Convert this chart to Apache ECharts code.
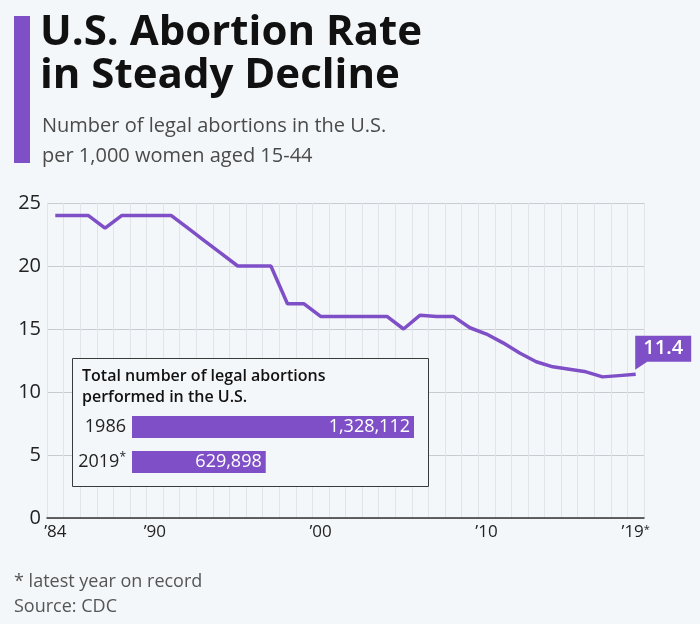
<!DOCTYPE html>
<html>
<head>
<meta charset="utf-8">
<style>
html,body{margin:0;padding:0;background:#f4f7fa;}
#chart{width:700px;height:624px;}
</style>
<script src="https://cdn.jsdelivr.net/npm/echarts@6/dist/echarts.min.js"></script>
</head>
<body>
<div id="chart"></div>
<script>
// ---- data ----
const years = ['1984','1985','1986','1987','1988','1989','1990','1991','1992','1993',
  '1994','1995','1996','1997','1998','1999','2000','2001','2002','2003',
  '2004','2005','2006','2007','2008','2009','2010','2011','2012','2013',
  '2014','2015','2016','2017','2018','2019'];
const rates = [24,24,24,23,24,24,24,24,23,22,
  21,20,20,20,17,17,16,16,16,16,
  16,15,16.1,16.0,16.0,15.1,14.6,13.9,13.1,12.4,
  12.0,11.8,11.6,11.2,11.3,11.4];
const labelYears = ['1984','1990','2000','2010','2019'];
const labelTexts = ['\u201984','\u201990','\u201900','\u201910','\u201919{s|*}'];
const yTicks = [0,5,10,15,20,25];
const insetYears = ['1986','2019'];
const insetTotals = [1328112, 629898];

const PURPLE = '#7e4fc6';
const BG = '#f4f7fa';
const FONT = '"Open Sans", sans-serif';

const chart = echarts.init(document.getElementById('chart'), null, {renderer:'canvas'});
const option = {
  backgroundColor: BG,
  animation: false,
  textStyle: {fontFamily: FONT},
  grid: [
    {left: 47, right: 56, top: 203, bottom: 106, containLabel: false},
    {left: 132, width: 282, top: 409.5, height: 70, containLabel: false}
  ],
  xAxis: [
    {
      type: 'category', data: years, boundaryGap: true, gridIndex: 0,
      axisLine: {show: true, lineStyle: {color: '#333', width: 1.5}},
      axisTick: {show: false, interval: 0},
      splitLine: {show: true, interval: 0, lineStyle: {color: '#e1e5ea', width: 1}},
      axisLabel: {
        interval: function (idx, val) { return labelYears.indexOf(val) >= 0; },
        formatter: function (val) { return labelTexts[labelYears.indexOf(val)]; },
        color: '#222', fontSize: 17, fontFamily: FONT, margin: 6,
        rich: {s: {fontSize: 11, verticalAlign: 'top', color: '#222', padding: [0,0,6,0]}}
      }
    },
    {type: 'value', gridIndex: 1, min: 0, max: insetTotals[0], show: false}
  ],
  yAxis: [
    {
      type: 'value', gridIndex: 0, min: yTicks[0], max: yTicks[yTicks.length-1], interval: 5,
      axisLine: {show: false}, axisTick: {show: false},
      splitLine: {show: true, lineStyle: {color: '#c8ccd1', width: 1}},
      axisLabel: {color: '#222', fontSize: 20, fontFamily: FONT, margin: 6}
    },
    {
      type: 'category', gridIndex: 1, data: insetYears, inverse: true, z: 20,
      axisLine: {show: false}, axisTick: {show: false}, splitLine: {show: false},
      axisLabel: {
        color: '#222', fontSize: 18, fontFamily: FONT, margin: 6,
        formatter: function (v) { return v === '2019' ? v + '{s|*}' : v; },
        rich: {s: {fontSize: 12, verticalAlign: 'top', color: '#222', padding: [0,0,8,0]}}
      }
    }
  ],
  series: [
    {
      type: 'line', xAxisIndex: 0, yAxisIndex: 0, data: rates,
      showSymbol: false, symbol: 'none',
      lineStyle: {color: PURPLE, width: 3.5},
      itemStyle: {color: PURPLE},
      z: 5,
      markPoint: {
        symbol: 'path://M0,0L56,0L56,26L12,26L0,34Z',
        symbolSize: [56, 34],
        symbolKeepAspect: false,
        symbolOffset: [27.5, -21.7],
        itemStyle: {color: PURPLE},
        label: {show: true, color: '#fff', fontSize: 20, fontWeight: 600, fontFamily: FONT, offset: [0, -4],
                formatter: function (p) { return String(p.value); }},
        data: [{coord: [years[years.length-1], rates[rates.length-1]], value: rates[rates.length-1]}]
      }
    },
    {
      type: 'bar', xAxisIndex: 1, yAxisIndex: 1, data: insetTotals,
      barWidth: 22, z: 20,
      itemStyle: {color: PURPLE},
      label: {
        show: true, position: 'insideRight', distance: 4, color: '#fff',
        fontSize: 18, fontFamily: FONT,
        formatter: function (p) { return p.value.toLocaleString('en-US'); }
      }
    }
  ],
  graphic: [
    {type: 'rect', z: 1, shape: {x: 14, y: 16, width: 16, height: 147}, style: {fill: PURPLE}},
    {type: 'text', z: 1, x: 40, y: 33, style: {text: 'U.S. Abortion Rate', font: 'bold 42px ' + FONT, fill: '#111', verticalAlign: 'middle'}},
    {type: 'text', z: 1, x: 40, y: 76, style: {text: 'in Steady Decline', font: 'bold 42px ' + FONT, fill: '#111', verticalAlign: 'middle'}},
    {type: 'text', z: 1, x: 42, y: 126.5, style: {text: 'Number of legal abortions in the U.S.', font: '20px ' + FONT, fill: '#4a4a4a', verticalAlign: 'middle'}},
    {type: 'text', z: 1, x: 42, y: 156.5, style: {text: 'per 1,000 women aged 15-44', font: '20px ' + FONT, fill: '#4a4a4a', verticalAlign: 'middle'}},
    {type: 'rect', z: 10, shape: {x: 72.5, y: 358.5, width: 356, height: 128}, style: {fill: BG, stroke: '#3a3a3a', lineWidth: 1}},
    {type: 'text', z: 11, x: 82, y: 376.5, style: {text: 'Total number of legal abortions', font: '600 16px ' + FONT, fill: '#111', verticalAlign: 'middle'}},
    {type: 'text', z: 11, x: 82, y: 397.5, style: {text: 'performed in the U.S.', font: '600 16px ' + FONT, fill: '#111', verticalAlign: 'middle'}},
    {type: 'text', z: 1, x: 14, y: 581.5, style: {text: '* latest year on record', font: '18px ' + FONT, fill: '#555', verticalAlign: 'middle'}},
    {type: 'text', z: 1, x: 14, y: 606.5, style: {text: 'Source: CDC', font: '18px ' + FONT, fill: '#555', verticalAlign: 'middle'}}
  ]
};
chart.setOption(option);
</script>
</body>
</html>
